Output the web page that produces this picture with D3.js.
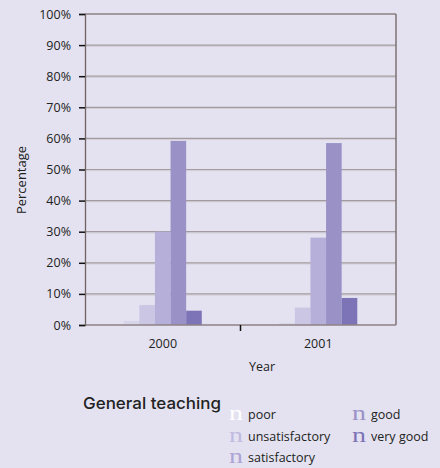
<!DOCTYPE html>
<html>
<head>
<meta charset="utf-8">
<script src="https://cdn.jsdelivr.net/npm/d3@7"></script>
<style>
  html, body { margin: 0; padding: 0; background: #e4e2f0; }
  svg { display: block; }
  text { font-family: "Open Sans", "Noto Sans", sans-serif; fill: #222; }
</style>
</head>
<body>
<svg id="chart" width="440" height="468"></svg>
<script>
// Survey results: share of lessons per grade of general teaching
const years = ["2000", "2001"];
const grades = ["poor", "unsatisfactory", "satisfactory", "good", "very good"];
const values2000 = [1.3, 6.4, 30.0, 59.2, 4.6];
const values2001 = [0.6, 5.6, 28.1, 58.5, 8.7];
const gradeColors = ["#d8d5eb", "#cac6e3", "#b5afda", "#9a92c7", "#7d74b8"];
const legendColors = ["#ffffff", "#c0bbdf", "#aca5d5", "#9a92c7", "#7d74b8"];
const yTicks = [0, 10, 20, 30, 40, 50, 60, 70, 80, 90, 100];

const seriesByYear = [values2000, values2001];

const svg = d3.select("#chart");
const m = { left: 85, right: 396, top: 14, bottom: 325 };

const x0 = d3.scaleBand().domain(years).range([m.left, m.right]).paddingInner(0).paddingOuter(0);
const x1 = d3.scaleBand().domain(grades).range([0, x0.bandwidth() * 0.502]);
const groupOffset = (x0.bandwidth() - x1.range()[1]) / 2;
const y = d3.scaleLinear().domain([0, 100]).range([m.bottom, m.top]);

// gridlines (dark line with a soft highlight beneath)
const grid = svg.append("g");
grid.selectAll("line.hl").data(yTicks.filter(t => t > 0 && t < 100)).join("line")
  .attr("class", "hl")
  .attr("x1", m.left).attr("x2", m.right)
  .attr("y1", d => y(d) + 1.2).attr("y2", d => y(d) + 1.2)
  .attr("stroke", "#d2cdd6").attr("stroke-width", 1);
grid.selectAll("line.gl").data(yTicks.filter(t => t > 0)).join("line")
  .attr("class", "gl")
  .attr("x1", m.left).attr("x2", m.right)
  .attr("y1", d => y(d)).attr("y2", d => y(d))
  .attr("stroke", d => d === 100 ? "#8c8284" : "#a39b9f")
  .attr("stroke-width", d => d === 100 ? 1.6 : 1.2);

// bars
const groups = svg.append("g").selectAll("g").data(years).join("g")
  .attr("transform", d => `translate(${x0(d) + groupOffset},0)`);
groups.selectAll("rect")
  .data((d, i) => grades.map((g, j) => ({ g, v: seriesByYear[i][j], c: gradeColors[j] })))
  .join("rect")
  .attr("x", d => x1(d.g))
  .attr("width", x1.bandwidth())
  .attr("y", d => y(d.v))
  .attr("height", d => y(0) - y(d.v))
  .attr("fill", d => d.c);

// frame: right border, baseline
svg.append("line").attr("x1", m.right).attr("x2", m.right).attr("y1", m.top).attr("y2", m.bottom)
  .attr("stroke", "#6e6262").attr("stroke-width", 1.3);
svg.append("line").attr("x1", m.left).attr("x2", m.right).attr("y1", m.bottom).attr("y2", m.bottom)
  .attr("stroke", "#8c8284").attr("stroke-width", 1.6);

// y axis
const yAxis = d3.axisLeft(y).tickValues(yTicks).tickSize(6).tickPadding(8).tickFormat(d => d + "%");
const yg = svg.append("g").attr("transform", `translate(${m.left},0)`).call(yAxis);
yg.select(".domain").attr("stroke", "#6e6262").attr("stroke-width", 1.3);
yg.selectAll(".tick line").attr("stroke", "#111").attr("stroke-width", 1.5);
yg.selectAll(".tick text").attr("font-size", 12.5).attr("fill", "#333");

// x axis (category separator tick and labels)
const xg = svg.append("g").attr("transform", `translate(0,${m.bottom})`);
xg.selectAll("line").data(years.slice(1)).join("line")
  .attr("x1", d => x0(d)).attr("x2", d => x0(d))
  .attr("y1", 0).attr("y2", 6)
  .attr("stroke", "#111").attr("stroke-width", 1.5);
xg.selectAll("text").data(years).join("text")
  .attr("x", d => x0(d) + x0.bandwidth() / 2).attr("y", 23)
  .attr("text-anchor", "middle").attr("font-size", 12.5).attr("fill", "#333")
  .text(d => d);

// axis titles
svg.append("text").attr("transform", "translate(26,180) rotate(-90)")
  .attr("text-anchor", "middle").attr("font-size", 13).attr("fill", "#333").text("Percentage");
svg.append("text").attr("x", 262).attr("y", 371)
  .attr("text-anchor", "middle").attr("font-size", 12.5).attr("fill", "#333").text("Year");

// legend
svg.append("text").attr("x", 83).attr("y", 409)
  .attr("font-size", 16.5).attr("fill", "#222")
  .attr("style", "font-family: Inter, 'Open Sans', sans-serif; font-weight: 500")
  .attr("textLength", 138).attr("lengthAdjust", "spacingAndGlyphs")
  .text("General teaching");

const legendPos = [[229, 420], [229, 441.5], [229, 463], [352, 420], [352, 441.5]];
const leg = svg.append("g").selectAll("g").data(grades).join("g")
  .attr("transform", (d, i) => `translate(${legendPos[i][0]},${legendPos[i][1]})`);
leg.append("text").attr("x", 0).attr("y", 0)
  .attr("style", "font-family: 'Liberation Serif', 'DejaVu Serif', serif")
  .attr("font-size", 20).attr("textLength", 14).attr("lengthAdjust", "spacingAndGlyphs")
  .style("fill", (d, i) => legendColors[i]).text("n");
leg.append("text").attr("x", 19).attr("y", -1)
  .attr("font-size", 12.5).attr("fill", "#222").text(d => d);
</script>
</body>
</html>
